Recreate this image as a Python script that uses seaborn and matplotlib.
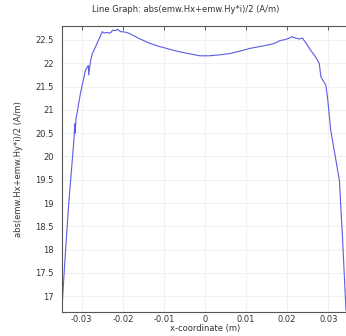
import matplotlib
matplotlib.use("Agg")
import matplotlib.pyplot as plt
import seaborn as sns
import pandas as pd

x_coord = [-0.0348, -0.0340, -0.0331, -0.0325, -0.0319, -0.0317, -0.0316, -0.0314, -0.0310,
           -0.0303, -0.0297, -0.0291, -0.0286, -0.0284, -0.0283, -0.0281, -0.0278, -0.0274,
           -0.0265, -0.0258, -0.0250, -0.0246, -0.0240, -0.0232, -0.0229, -0.0225, -0.0219,
           -0.0213, -0.0209, -0.0205, -0.0195, -0.0184, -0.0160, -0.0135, -0.0115, -0.0094,
           -0.0073, -0.0053, -0.0030, -0.0012, 0.0010, 0.0035, 0.0061, 0.0085, 0.0110,
           0.0140, 0.0167, 0.0184, 0.0196, 0.0205, 0.0212, 0.0221, 0.0230, 0.0237, 0.0247,
           0.0257, 0.0268, 0.0278, 0.0282, 0.0294, 0.0298, 0.0306, 0.0317, 0.0327, 0.0335,
           0.0343]
h_abs = [16.75, 17.9, 19.06, 19.7, 20.35, 20.7, 20.5, 20.8, 21.0,
         21.36, 21.6, 21.85, 21.93, 21.95, 21.75, 21.9, 22.07, 22.21,
         22.38, 22.52, 22.68, 22.65, 22.66, 22.65, 22.66, 22.71, 22.70,
         22.73, 22.70, 22.68, 22.67, 22.64, 22.53, 22.43, 22.37, 22.32,
         22.27, 22.23, 22.19, 22.16, 22.16, 22.18, 22.21, 22.26, 22.32,
         22.37, 22.42, 22.49, 22.51, 22.54, 22.57, 22.54, 22.52, 22.54, 22.42,
         22.28, 22.15, 22.0, 21.71, 21.53, 21.28, 20.56, 20.0, 19.49, 18.2,
         16.7]

x_ticks = [-0.03, -0.02, -0.01, 0, 0.01, 0.02, 0.03]
x_tick_labels = ["-0.03", "-0.02", "-0.01", "0", "0.01", "0.02", "0.03"]
y_ticks = [17, 17.5, 18, 18.5, 19, 19.5, 20, 20.5, 21, 21.5, 22, 22.5]
y_tick_labels = ["17", "17.5", "18", "18.5", "19", "19.5", "20", "20.5", "21", "21.5", "22", "22.5"]

df = pd.DataFrame({"x": x_coord, "y": h_abs})

sns.set_style("white")
plt.rcParams["font.family"] = ["DejaVu Sans"]

fig = plt.figure(figsize=(3.46, 3.36), dpi=100)
ax = fig.add_axes([62 / 346, 1 - 312 / 336, 286 / 346, (312 - 26) / 336])

sns.lineplot(data=df, x="x", y="y", sort=False, estimator=None, ax=ax,
             color="#5b5be6", linewidth=0.8)

ax.set_xlim(-0.0348, 0.0348)
ax.set_ylim(16.66, 22.80)
ax.set_xticks(x_ticks)
ax.set_xticklabels(x_tick_labels)
ax.set_yticks(y_ticks)
ax.set_yticklabels(y_tick_labels)
ax.grid(True, color="#f1f1f1", linewidth=0.8)
ax.tick_params(direction="in", length=3, width=0.6, colors="#444444", labelsize=6,
               labelcolor="#333333", top=True, right=False)
ax.tick_params(axis="x", pad=2)
ax.tick_params(axis="y", pad=6)
for s in ax.spines.values():
    s.set_color("#555555")
    s.set_linewidth(0.8)
ax.spines["right"].set_visible(False)

ax.set_xlabel("x-coordinate (m)", fontsize=6, color="#333333", labelpad=0)
ax.set_ylabel("abs(emw.Hx+emw.Hy*i)/2 (A/m)", fontsize=6, color="#333333", labelpad=9)
fig.text(186 / 346, 1 - 10 / 336, "Line Graph: abs(emw.Hx+emw.Hy*i)/2 (A/m)",
         fontsize=6, color="#333333", ha="center", va="center")

fig.savefig("out.png", dpi=100)
